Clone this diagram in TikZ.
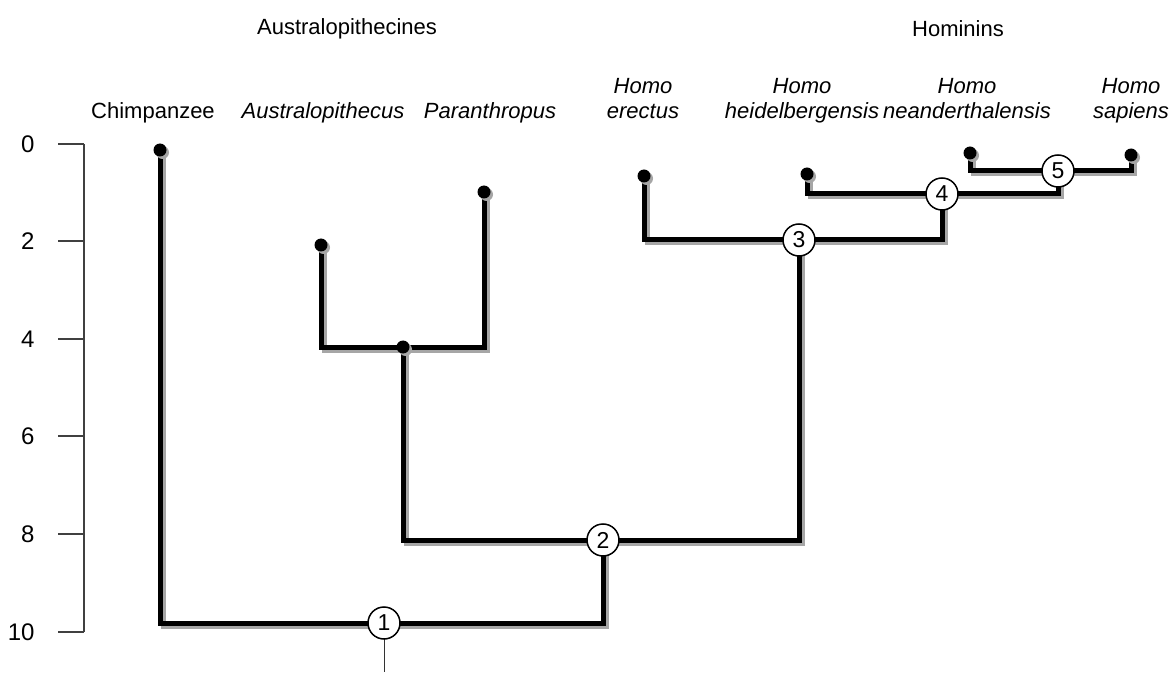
\documentclass[tikz,border=0pt]{standalone}
\usepackage{fontspec}
\setmainfont{Liberation Sans}
\usetikzlibrary{backgrounds,shadows}
\begin{document}
\begin{tikzpicture}[x=1pt,y=-1pt,
  branch/.style={line width=5pt, black, line join=miter,
    preaction={draw=black!35, line width=5pt, transform canvas={shift={(3pt,-3pt)}}}},
  tip/.style={circle, fill=black, inner sep=0pt, minimum size=13pt,
    drop shadow={shadow xshift=2.5pt, shadow yshift=-2.5pt, fill=black!35, opacity=1}},
  num/.style={circle, draw=black, line width=1.5pt, fill=white, inner sep=0pt,
    minimum size=32pt, font=\fontsize{23}{23}\selectfont},
  species/.style={align=center, font=\fontsize{22}{25}\selectfont\itshape, anchor=base},
  title/.style={font=\fontsize{22}{22}\selectfont},
  ticklab/.style={anchor=east, font=\fontsize{24}{24}\selectfont},
  axisline/.style={line width=1.3pt, black!75},
  rootline/.style={line width=1pt, black!80}
]
\useasboundingbox (0,0) rectangle (1171,679);

% titles
\node[title] (tA) at (347,29) {Australopithecines};
\node[title] (tH) at (958,29) {Hominins};

% species labels (baseline of last line at y=119)
\node[species, font=\fontsize{22}{25}\selectfont] (lChimp) at (153,119) {Chimpanzee};
\node[species] (lAus) at (323,119) {Australopithecus};
\node[species] (lPar) at (490,119) {Paranthropus};
\node[species] (lEre) at (643,119) {Homo\\erectus};
\node[species] (lHei) at (802,119) {Homo\\heidelbergensis};
\node[species] (lNea) at (967,119) {Homo\\neanderthalensis};
\node[species] (lSap) at (1131,119) {Homo\\sapiens};

% axis
\coordinate (a0) at (84,144);
\coordinate (a10) at (84,632);
\draw[axisline] (a0) -- (a10);
\foreach \v/\y in {0/144,2/241,4/339,6/436,8/534,10/632}{
  \coordinate (tk\v) at (84,\y);
  \node[ticklab] (tl\v) at (38,\y) {\v};
  \draw[axisline] (58,\y) -- (tk\v);
}

% tips and nodes
\node[tip] (chimp) at (160,150) {};
\node[tip] (austr) at (321,245) {};
\node[tip] (paran) at (484,192) {};
\node[tip] (anode) at (403,347) {};
\node[tip] (erec) at (644,176) {};
\node[tip] (heid) at (807,174) {};
\node[tip] (nean) at (970,153) {};
\node[tip] (sap) at (1131,155) {};

\node[num] (n1) at (384,623) {1};
\node[num] (n2) at (603,540) {2};
\node[num] (n3) at (799,240) {3};
\node[num] (n4) at (942,194) {4};
\node[num] (n5) at (1058,171) {5};
\coordinate (root) at (384,672);

\begin{pgfonlayer}{background}
\draw[rootline] (n1.center) -- (root);
\draw[branch] (chimp.center) |- (n1.center);
\draw[branch] (n1.center) -| (n2.center);
\draw[branch] (n2.center) -| (anode.center);
\draw[branch] (anode.center) -| (austr.center);
\draw[branch] (anode.center) -| (paran.center);
\draw[branch] (n2.center) -| (n3.center);
\draw[branch] (n3.center) -| (erec.center);
\draw[branch] (n3.center) -| (n4.center);
\draw[branch] (n4.center) -| (heid.center);
\draw[branch] (n4.center) -| (n5.center);
\draw[branch] (n5.center) -| (nean.center);
\draw[branch] (n5.center) -| (sap.center);
\end{pgfonlayer}
\end{tikzpicture}
\end{document}
